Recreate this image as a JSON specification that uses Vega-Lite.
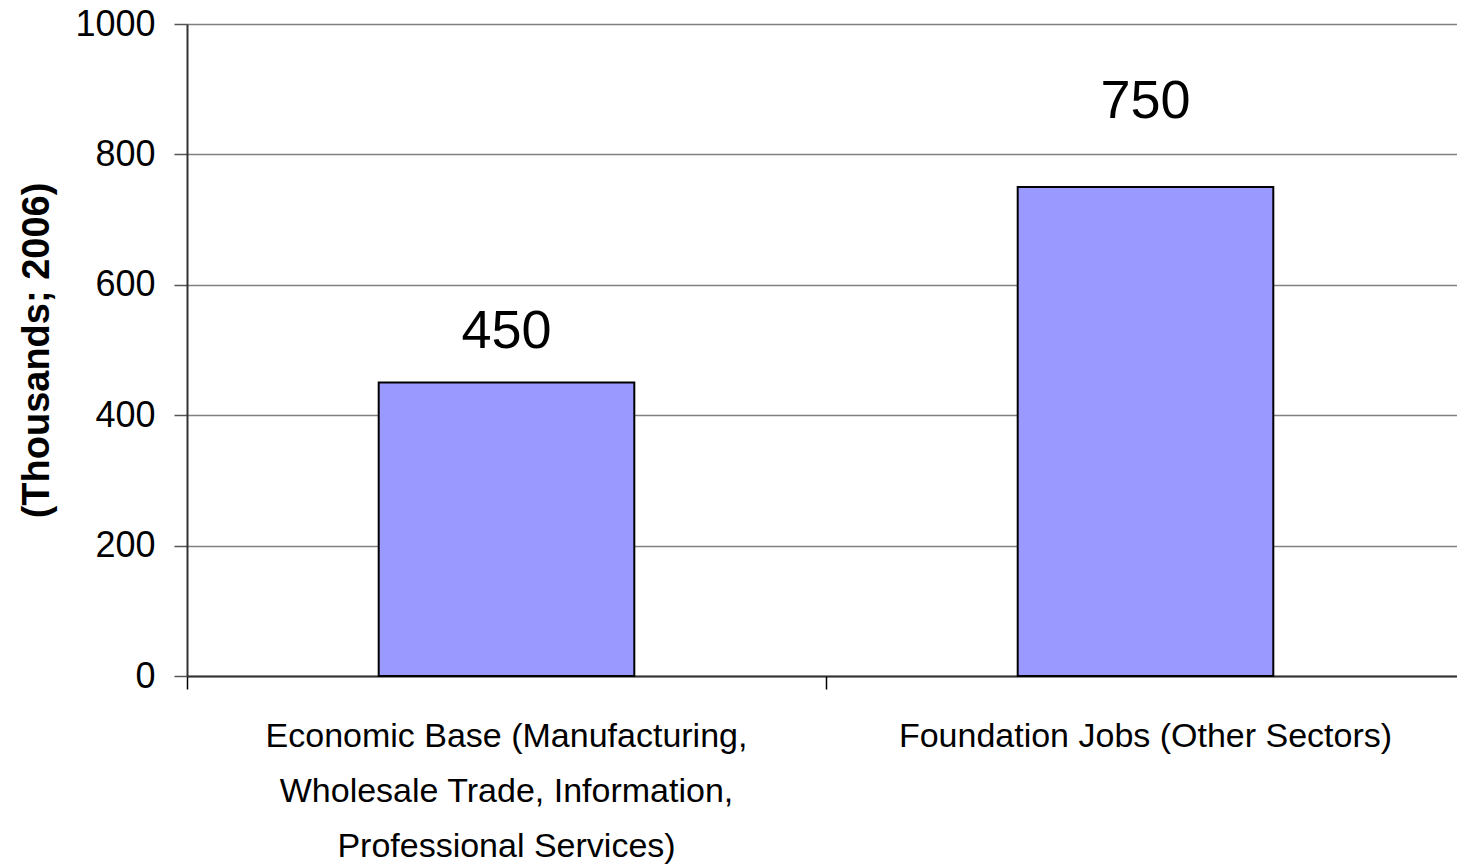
{
  "$schema": "https://vega.github.io/schema/vega-lite/v6.json",
  "width": 1278,
  "height": 652,
  "autosize": "none",
  "padding": {"left": 187, "top": 24, "right": 0, "bottom": 188},
  "background": "white",
  "config": {
    "font": "Liberation Sans",
    "view": {"stroke": null},
    "axis": {"labelColor": "black", "titleColor": "black"}
  },
  "data": {
    "values": [
      {"category": "Economic Base (Manufacturing, Wholesale Trade, Information, Professional Services)", "jobs": 450},
      {"category": "Foundation Jobs (Other Sectors)", "jobs": 750}
    ]
  },
  "encoding": {
    "y": {
      "field": "jobs",
      "type": "quantitative",
      "scale": {"domain": [0, 1000], "nice": false},
      "axis": {
        "title": "(Thousands; 2006)",
        "titleFontSize": 38,
        "titleFontWeight": "bold",
        "titlePadding": 18,
        "values": [0, 200, 400, 600, 800, 1000],
        "format": "d",
        "labelFontSize": 36,
        "labelPadding": 19,
        "tickSize": 13,
        "tickColor": "#555555",
        "tickWidth": 1.5,
        "domainColor": "#333333",
        "domainWidth": 2,
        "grid": true,
        "gridColor": "#808080",
        "gridWidth": 1.3,
        "gridOpacity": 1
      }
    }
  },
  "layer": [
    {
      "mark": {"type": "bar", "width": {"band": 0.4}, "fill": "#9999FF", "stroke": "black", "strokeWidth": 2},
      "encoding": {
        "x": {
          "field": "category",
          "type": "nominal",
          "sort": null,
          "scale": {"paddingInner": 0, "paddingOuter": 0},
          "axis": {
            "orient": "bottom",
            "title": null,
            "labelAngle": 0,
            "labelFontSize": 34,
            "labelLineHeight": 55,
            "labelPadding": 43,
            "labelLimit": 0,
            "labelExpr": "datum.value == 'Foundation Jobs (Other Sectors)' ? datum.value : ['Economic Base (Manufacturing,', 'Wholesale Trade, Information,', 'Professional Services)']",
            "ticks": false,
            "domainColor": "#333333",
            "domainWidth": 2,
            "grid": false
          }
        }
      }
    },
    {
      "transform": [{"filter": "datum.jobs == 450"}],
      "mark": {"type": "text", "fontSize": 54, "baseline": "alphabetic", "dy": -35, "color": "black"},
      "encoding": {
        "x": {
          "field": "category",
          "type": "nominal",
          "sort": null,
          "axis": {
            "orient": "bottom",
            "title": null,
            "labels": false,
            "domain": false,
            "grid": false,
            "bandPosition": 0,
            "tickSize": 13,
            "tickColor": "black",
            "tickWidth": 1.5
          }
        },
        "text": {"field": "jobs", "type": "quantitative"}
      }
    },
    {
      "transform": [{"filter": "datum.jobs == 750"}],
      "mark": {"type": "text", "fontSize": 54, "baseline": "alphabetic", "dy": -69, "color": "black"},
      "encoding": {
        "x": {"field": "category", "type": "nominal", "sort": null, "axis": null},
        "text": {"field": "jobs", "type": "quantitative"}
      }
    }
  ],
  "resolve": {"axis": {"x": "independent"}}
}
